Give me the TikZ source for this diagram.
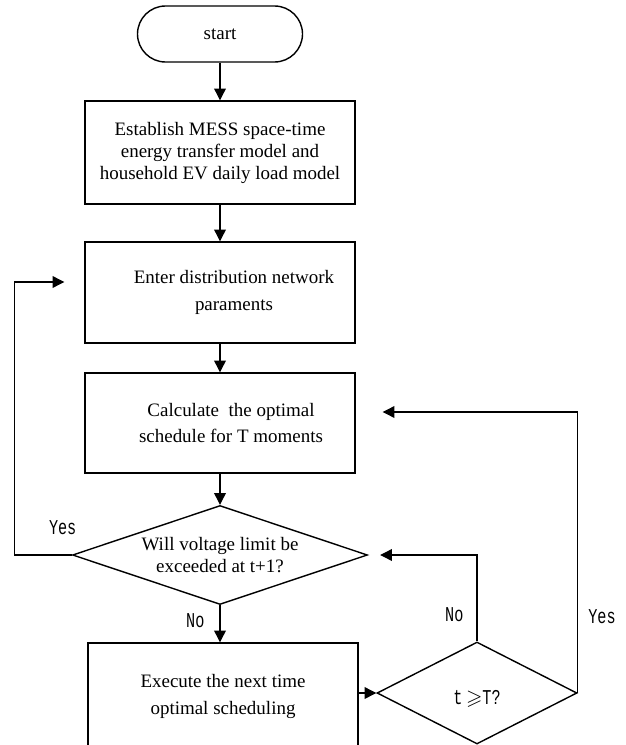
\documentclass[tikz,border=0pt]{standalone}
\usepackage{fontspec}
\usepackage{amssymb}
\setmainfont{Liberation Serif}
\newfontfamily\lblfont[FakeStretch=0.72]{Liberation Mono}
\usepackage{tikz}
\usetikzlibrary{shapes.geometric, arrows.meta, positioning}

\begin{document}
\begin{tikzpicture}[
  term/.style={draw, rectangle, rounded corners=0.84cm, minimum width=4.95cm,
               minimum height=1.68cm, line width=1.2pt,
               font=\fontsize{16.2}{18.8}\selectfont},
  proc/.style={draw, rectangle, minimum width=8.1cm, align=center,
               line width=1.2pt, font=\fontsize{16.2}{23}\selectfont},
  dec/.style={draw, diamond, aspect=2.98, inner sep=0pt, align=center,
              line width=1.2pt, font=\fontsize{16.2}{19.5}\selectfont},
  lbl/.style={font=\lblfont\fontsize{18}{20}\selectfont, inner sep=0pt},
  arr/.style={-{Triangle[length=10pt, width=10pt]}, line width=1pt}
]
\useasboundingbox (0,0) rectangle (18.75,-22.35);

%% Main column
\node[term] (start)  at (6.6, -1.02)  {start};
\node[proc, minimum height=3.09cm, font=\fontsize{16.2}{18.8}\selectfont] (model) at (6.6, -4.575)
  {Establish MESS space-time\\energy transfer model and\\household EV daily load model};
\node[proc, minimum height=3.03cm] (params) at (6.6, -8.775)
  {\hspace*{0.84cm}Enter distribution network\\\hspace*{0.84cm}paraments};
\node[proc, minimum height=3.0cm]  (sched)  at (6.6, -12.69)
  {\hspace*{0.66cm}Calculate~ the optimal\\\hspace*{0.66cm}schedule for T moments};
\node[dec, minimum width=8.85cm, minimum height=2.97cm] (vcheck) at (6.6, -16.65)
  {Will voltage limit be\\exceeded at t+1?};
\node[proc, minimum height=3.21cm] (exec)   at (6.69, -20.895)
  {Execute the next time\\optimal scheduling};

%% Time check
\node[dec, minimum width=6.0cm, minimum height=3.06cm, text height=0.66cm,
      text depth=0cm, font=\lblfont\fontsize{18}{20}\selectfont] (tcheck) at (14.31, -20.79)
  {t\,$\geqslant$T?};

%% Main arrows
\draw[arr] (start) -- (model);
\draw[arr] (model) -- (params);
\draw[arr] (params) -- (sched);
\draw[arr] (sched) -- (vcheck);
\draw[arr] (vcheck.south) -- node[lbl, pos=0.42, left=0.45cm] {No} (vcheck.south |- exec.north);
\draw[arr] (tcheck.west -| exec.east) -- (tcheck.west);

%% Loops back
\draw[arr] (vcheck.west) -- node[lbl, pos=0.16, yshift=0.81cm] {Yes} ++(-1.71,0)
  |- ([xshift=-0.6cm, yshift=0.315cm]params.west);
\draw[arr] (tcheck.north) |- node[lbl, pos=0.155, left=0.39cm] {No}
  ([xshift=0.36cm]vcheck.east);
\draw[arr] (tcheck.east) |- node[lbl, pos=0.135, right=0.3cm] {Yes}
  ([xshift=0.81cm, yshift=0.33cm]sched.east);

\end{tikzpicture}
\end{document}
